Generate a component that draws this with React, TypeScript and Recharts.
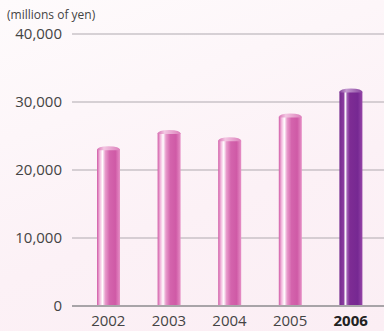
import { BarChart, Bar, XAxis, YAxis, CartesianGrid, Cell } from "recharts";

const years = ["2002", "2003", "2004", "2005", "2006"];
const sales = [23500, 25900, 24800, 28300, 32000];
const yTicks = [0, 10000, 20000, 30000, 40000];

const data = years.map((year, i) => ({ year, value: sales[i] }));

const Cylinder = (props: any) => {
  const { x, y, width, height, index } = props;
  if (!height || height <= 0) return null;
  const last = index === years.length - 1;
  const body = last ? "url(#purpleBody)" : "url(#pinkBody)";
  const cap = last ? "url(#purpleCap)" : "url(#pinkCap)";
  const r = 3;
  return (
    <g>
      <rect x={x} y={y + r} width={width} height={height - r} fill={body} />
      <path
        d={`M${x},${y + r + 1} Q${x},${y} ${x + width / 2},${y} Q${x + width},${y} ${x + width},${y + r + 1} Z`}
        fill={cap}
      />
    </g>
  );
};

const XTick = (props: any) => {
  const { x, y, payload } = props;
  const bold = payload.value === "2006";
  return (
    <text
      x={x}
      y={y}
      dy="0.71em"
      textAnchor="middle"
      fontSize={15}
      fontWeight={bold ? 700 : 400}
      fill={bold ? "#222" : "#444"}
      fontFamily="'Open Sans', sans-serif"
    >
      {payload.value}
    </text>
  );
};

const App = () => {
  return (
    <div
      style={{
        position: "absolute",
        left: 0,
        top: 0,
        width: 384,
        height: 331,
        background: "linear-gradient(160deg, #fefbfc 0%, #fcf1f6 60%, #fbeef4 100%)",
        fontFamily: "'Open Sans', sans-serif",
      }}
    >
      <div
        style={{
          position: "absolute",
          left: 7,
          top: 6,
          fontSize: 12,
          color: "#444",
          lineHeight: "17px",
        }}
      >
        (millions of yen)
      </div>
      <BarChart
        width={384}
        height={331}
        data={data}
        margin={{ top: 34, right: 0, bottom: 3, left: 0 }}
        barSize={23}
      >
        <defs>
          <linearGradient id="pinkBody" x1="0" y1="0" x2="1" y2="0">
            <stop offset="0%" stopColor="#cf5aa6" />
            <stop offset="12%" stopColor="#f2b8dc" />
            <stop offset="24%" stopColor="#ffffff" />
            <stop offset="36%" stopColor="#e89acb" />
            <stop offset="55%" stopColor="#d464ad" />
            <stop offset="80%" stopColor="#cf5aa6" />
            <stop offset="100%" stopColor="#e690c6" />
          </linearGradient>
          <linearGradient id="pinkCap" x1="0" y1="0" x2="1" y2="0">
            <stop offset="0%" stopColor="#d872b4" />
            <stop offset="30%" stopColor="#f3c6e2" />
            <stop offset="100%" stopColor="#dc7fbb" />
          </linearGradient>
          <linearGradient id="purpleBody" x1="0" y1="0" x2="1" y2="0">
            <stop offset="0%" stopColor="#742a8e" />
            <stop offset="18%" stopColor="#8a3c9f" />
            <stop offset="26%" stopColor="#ffffff" />
            <stop offset="34%" stopColor="#a060b4" />
            <stop offset="45%" stopColor="#7e2c94" />
            <stop offset="80%" stopColor="#762892" />
            <stop offset="100%" stopColor="#9646a8" />
          </linearGradient>
          <linearGradient id="purpleCap" x1="0" y1="0" x2="1" y2="0">
            <stop offset="0%" stopColor="#86409c" />
            <stop offset="30%" stopColor="#c49ad0" />
            <stop offset="100%" stopColor="#8a44a0" />
          </linearGradient>
        </defs>
        <CartesianGrid horizontal vertical={false} stroke="#b0aab0" strokeWidth={1.2} />
        <XAxis
          dataKey="year"
          axisLine={{ stroke: "#a8a4a8", strokeWidth: 2 }}
          tickLine={false}
          tickMargin={3}
          height={22}
          padding={{ left: 6, right: 3 }}
          tick={<XTick />}
          interval={0}
        />
        <YAxis
          domain={[0, 40000]}
          ticks={yTicks}
          width={72}
          axisLine={false}
          tickLine={false}
          tickMargin={4}
          tickFormatter={(v: number) => v.toLocaleString("en-US")}
          tick={{ fontSize: 15, fill: "#444", fontFamily: "'Open Sans', sans-serif" }}
        />
        <Bar dataKey="value" isAnimationActive={false} shape={<Cylinder />}>
          {data.map((d) => (
            <Cell key={d.year} />
          ))}
        </Bar>
      </BarChart>
    </div>
  );
};

export default App;
